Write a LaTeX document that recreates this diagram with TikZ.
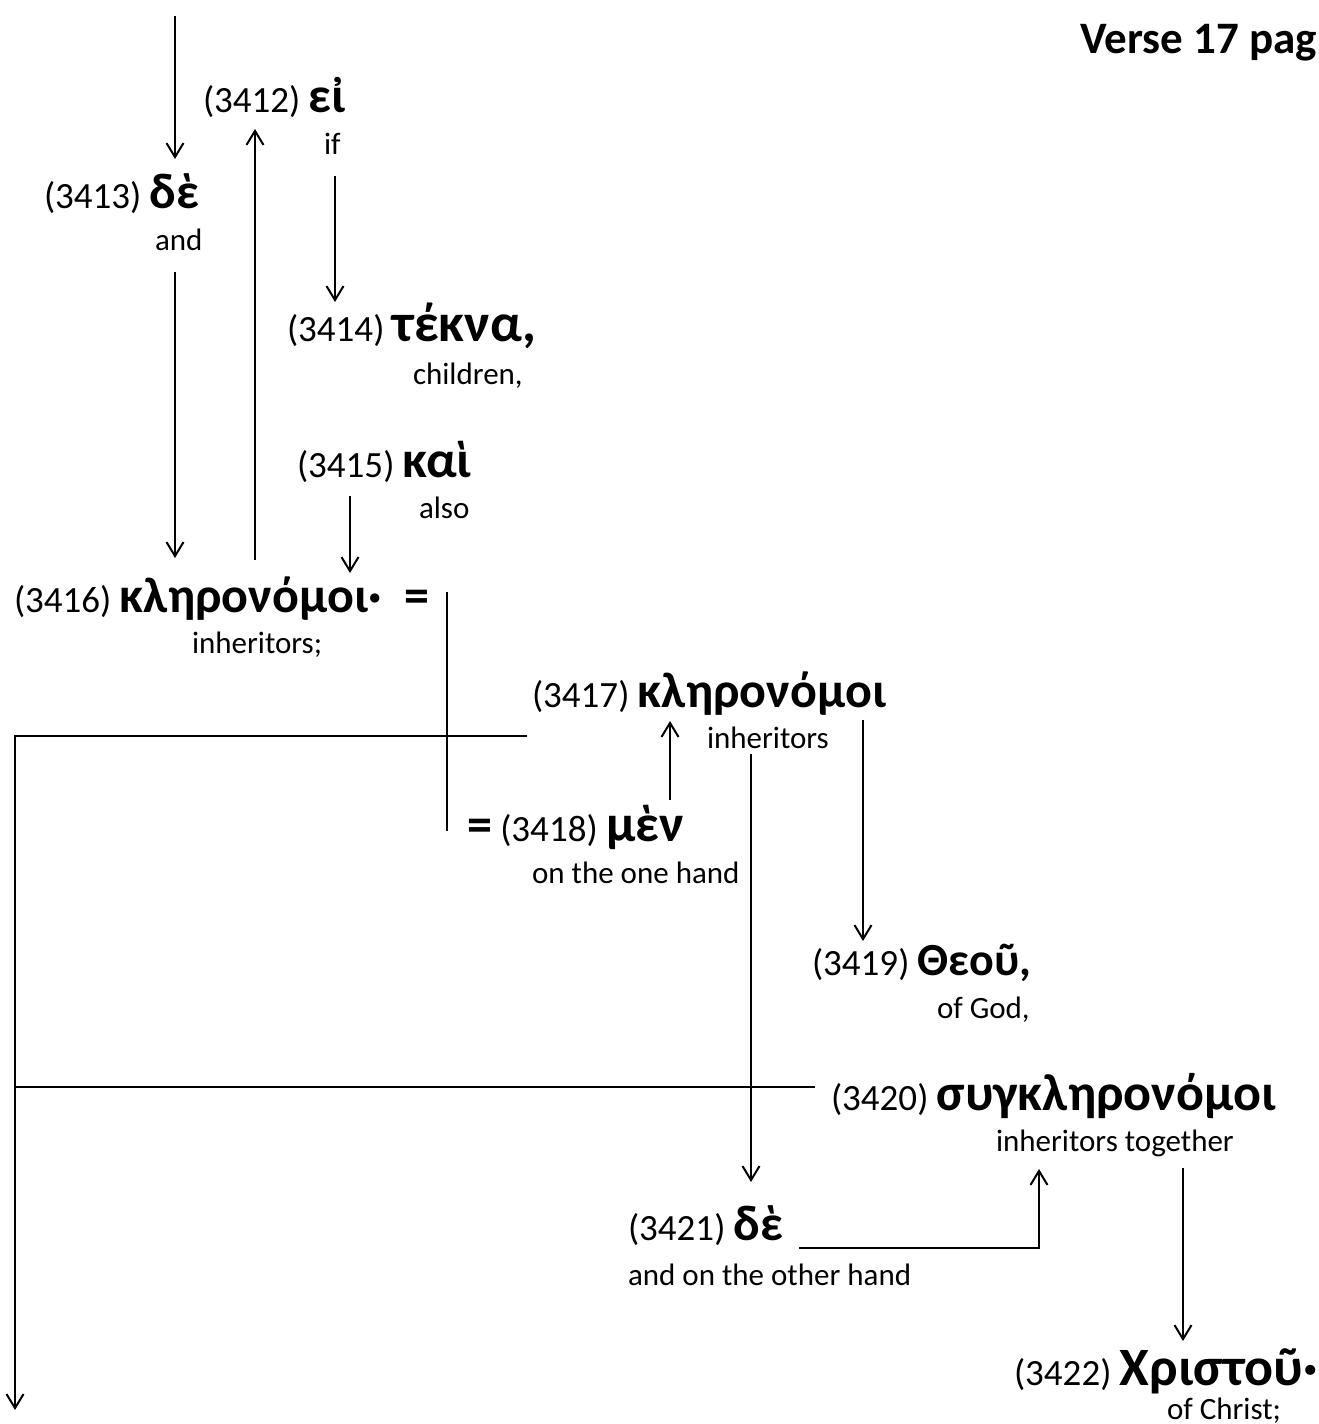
\documentclass[tikz,border=0pt]{standalone}
\usepackage{fontspec}
\setmainfont{Carlito}
\usetikzlibrary{arrows.meta, calc}
\newcommand{\gk}[2][50]{{\fontsize{#1}{#1}\selectfont\bfseries #2}}

\begin{document}
\begin{tikzpicture}[x=1pt, y=-1pt, line width=2pt,
    every node/.style={anchor=base west, inner sep=0pt},
    word/.style={font=\fontsize{37}{40}\selectfont},
    gloss/.style={font=\fontsize{31}{34}\selectfont},
    link/.style={-{Straight Barb[length=14pt,width=17pt]}}]
  \useasboundingbox (0,0) rectangle (1319,1424);

  % Heading
  \node[anchor=base east, font=\fontsize{45}{48}\selectfont\bfseries] (title) at (1318,53) {Verse 17 pag};

  % Words
  \node[word] (ei) at (202,112) {(3412) \gk{εἰ}};
  \node[gloss] (eigl) at (323,154) {if};
  \node[word] (de) at (43,208) {(3413) \gk{δὲ}};
  \node[gloss] (degl) at (154,250) {and};
  \node[word] (tekna) at (286,341) {(3414) \gk[54]{τέκνα,}};
  \node[gloss] (teknagl) at (412,384) {children,};
  \node[word] (kai) at (296,477) {(3415) \gk[52]{καὶ}};
  \node[gloss] (kaigl) at (418,518) {also};
  \node[word] (klA) at (13,612) {(3416) \gk{κληρονόμοι· \ =}};
  \node[gloss] (klAgl) at (191,653) {inheritors;};
  \node[word] (klB) at (531,707) {(3417) \gk{κληρονόμοι}};
  \node[gloss] (klBgl) at (706,748) {inheritors};
  \node[word] (men) at (466,841) {\gk{=} (3418) \gk[52]{μὲν}};
  \node[gloss] (mengl) at (531,883) {on the one hand};
  \node[word] (theou) at (811,975) {(3419) \gk[46]{Θεοῦ,}};
  \node[gloss] (theougl) at (936,1018) {of God,};
  \node[word] (syg) at (830,1110) {(3420) \gk[52]{συγκληρονόμοι}};
  \node[gloss] (syggl) at (995,1151) {inheritors together};
  \node[word] (deB) at (627,1240) {(3421) \gk{δὲ}};
  \node[gloss] (deBgl) at (627,1285) {and on the other hand};
  \node[word] (xr) at (1013,1385) {(3422) \gk[54]{Χριστοῦ·}};
  \node[gloss] (xrgl) at (1166,1419) {of Christ;};

  % Free ends
  \coordinate (in) at (175,16);
  \coordinate (out) at (15,1410);
  \coordinate (klBjoin) at ($(klB.base west)+(-4,29)$);
  \coordinate (sygjoin) at ($(syg.base west)+(-15,-23)$);
  \coordinate (deBjoin) at ($(799,0 |- deB.base)+(0,8)$);

  % Connectors
  \draw[link, shorten >=49pt] (in) -- (175,0 |- de.base);
  \draw[link, shorten <=22pt, shorten >=54pt] (175,0 |- degl.base) -- (175,0 |- klA.base);
  \draw[link, shorten <=52pt, shorten >=17pt] (255,0 |- klA.base) -- (255,0 |- ei.base);
  \draw[link, shorten <=22pt, shorten >=39pt] (335,0 |- eigl.base) -- (335,0 |- tekna.base);
  \draw[link, shorten <=19pt, shorten >=39pt] (350,0 |- kai.base) -- (350,0 |- klA.base);
  \draw[shorten <=-20pt, shorten >=10pt] (447,0 |- klA.base) -- (447,0 |- men.base);
  \draw[link] (klBjoin) -| (out);
  \draw (sygjoin) -- (sygjoin -| out);
  \draw[link, shorten <=41pt, shorten >=14pt] (670,0 |- men.base) -- (670,0 |- klB.base);
  \draw[link, shorten <=6pt, shorten >=58pt] (751,0 |- klBgl.base) -- (751,0 |- deB.base);
  \draw[link, shorten <=13pt, shorten >=34pt] (863,0 |- klB.base) -- (863,0 |- theou.base);
  \draw[link, shorten >=18pt] (deBjoin) -| (1039,0 |- syggl.base);
  \draw[link, shorten <=17pt, shorten >=44pt] (1183,0 |- syggl.base) -- (1183,0 |- xr.base);
\end{tikzpicture}
\end{document}
